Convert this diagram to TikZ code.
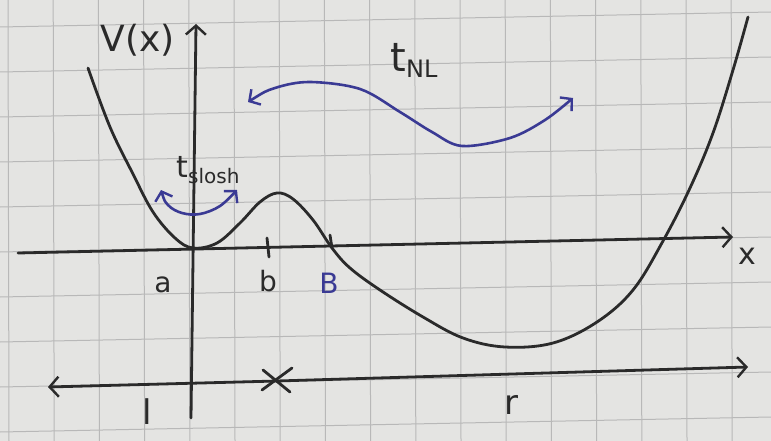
\documentclass[tikz,border=0pt]{standalone}
\usepackage{fontspec}
\setmainfont{DejaVu Sans}
\usetikzlibrary{arrows.meta}
\definecolor{paper}{HTML}{E4E4E2}
\definecolor{gridc}{HTML}{B8B8B8}
\definecolor{ink}{HTML}{2A2A2A}
\definecolor{blueink}{HTML}{3A3A94}
\tikzset{
  inkline/.style={draw=ink, line width=2.8pt, line cap=round, line join=round},
  blueline/.style={draw=blueink, line width=2.6pt, line cap=round, line join=round},
  barb/.style={-{Straight Barb[length=9pt,width=20pt,line width=2.4pt]}},
  bluebarbs/.style={{Straight Barb[length=8pt,width=18pt,line width=2.4pt]}-{Straight Barb[length=8pt,width=18pt,line width=2.4pt]}},
  gridline/.style={draw=gridc, line width=1pt},
  lbl/.style={text=ink, inner sep=0pt},
}
\newcommand{\fs}[1]{\fontsize{#1}{#1}\selectfont}
\begin{document}
\begin{tikzpicture}[x=1pt,y=-1pt]
\fill[paper] (0,0) rectangle (771,441);
\useasboundingbox (0,0) rectangle (771,441);
% grid
\foreach \k in {0,...,17} \draw[gridline] ({8+45.2*\k},0) -- ({9+45.2*\k},441);
\foreach \k in {0,...,9} \draw[gridline] (0,{27+45*\k}) -- (771,{12+45*\k});
% axes
\coordinate (yb) at (191,418);
\coordinate (yt) at (196,24);
\coordinate (xl) at (18,253);
\coordinate (xr) at (733,237);
\draw[inkline, barb] (yb) -- (yt);
\draw[inkline, barb] (xl) -- (xr);
% potential curve
\draw[inkline] plot[smooth, tension=0.6] coordinates {
 (88,68) (110,127) (133,174) (153,212) (175,238) (193,248) (217,243) (240,223)
 (260,202) (277,193) (293,199) (313,220) (332,248) (350,268) (380,290) (423,317)
 (463,338) (505,347) (553,343) (597,322) (633,290) (663,241) (690,188) (713,133)
 (733,70) (748,17)};
% ticks
\coordinate (tb1) at (267,238); \coordinate (tb2) at (269,257);
\coordinate (tB1) at (330,235); \coordinate (tB2) at (332,248);
\draw[inkline] (tb1) -- (tb2);
\draw[inkline] (tB1) -- (tB2);
% labels
\node[lbl, font=\fs{36}] (vx) at (138,40) {V(x)};
\node[lbl, font=\fs{30}] (xlab) at (747,256) {x};
\node[lbl, font=\fs{28}] (alab) at (163,285) {a};
\node[lbl, font=\fs{28}] (blab) at (268,281) {b};
\node[lbl, font=\fs{28}, text=blueink] (Blab) at (329,283) {B};
\node[lbl, font=\fs{30}] (tslosh) at (208,170) {t\raisebox{-6pt}{\fs{20}slosh}};
\node[lbl, font=\fs{40}] (tnl) at (414,60) {t\raisebox{-6pt}{\fs{24}NL}};
\node[lbl, font=\fs{34}] (llab) at (147,412) {l};
\node[lbl, font=\fs{34}] (rlab) at (511,405) {r};
% t_slosh arrow
\coordinate (sA) at (161,190);
\coordinate (sB) at (237,190);
\draw[blueline, bluebarbs]
  plot[smooth, tension=0.6] coordinates {(sA) (168,205) (182,213) (200,214) (220,206) (sB)};
% t_NL arrow
\coordinate (nA) at (248,102);
\coordinate (nB) at (573,98);
\draw[blueline, bluebarbs]
  plot[smooth, tension=0.55] coordinates {(nA) (275,88) (310,82) (360,89) (400,112) (432,132) (462,146) (510,138) (545,120) (nB)};
% bottom l / r arrow
\coordinate (bl) at (48,387);
\coordinate (xm) at (277,381);
\coordinate (br) at (748,367);
\draw[inkline, barb] (xm) -- (bl);
\draw[inkline, barb] (xm) -- (br);
\draw[inkline] ([shift={(-14,-11)}]xm) -- ([shift={(13,11)}]xm);
\draw[inkline] ([shift={(15,-13)}]xm) -- ([shift={(-15,9)}]xm);
\end{tikzpicture}
\end{document}
